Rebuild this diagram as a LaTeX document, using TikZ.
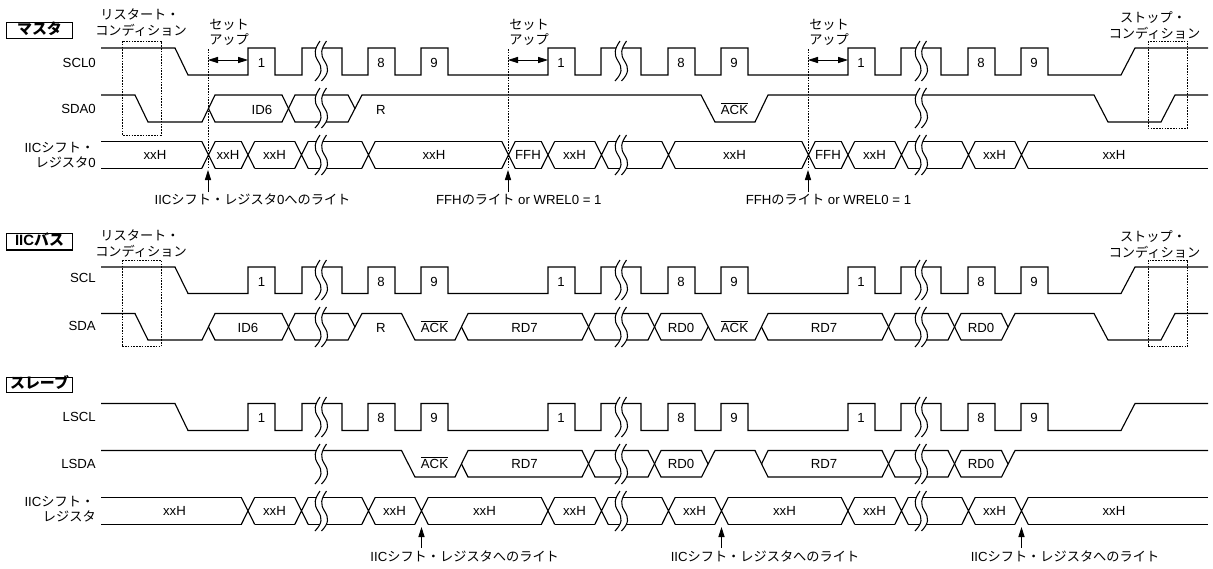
\documentclass[tikz,border=0pt]{standalone}
\usepackage{fontspec}
\setmainfont{Liberation Sans}
\newfontfamily\jpf{Noto Sans CJK JP}
\usetikzlibrary{arrows.meta}
\newcommand{\J}[1]{{\jpf\fontsize{9.9pt}{11pt}\selectfont #1}}
\newcommand{\JB}[1]{{\jpf\bfseries\fontsize{11.2pt}{12pt}\selectfont #1}}
\newcommand{\Ol}[1]{$\overline{\mbox{#1}}$}
% two rails of a bus
\newcommand{\rails}[3]{\foreach \a/\b in {#3}{\draw[wave] (\a,#1) -- (\b,#1) (\a,#2) -- (\b,#2);}}
% crossings of a bus
\newcommand{\crosses}[3]{\foreach \c in {#3}{\draw[wave] ({\c-6.7},#1) -- ({\c+6.7},#2) ({\c-6.7},#2) -- ({\c+6.7},#1);}}
% break mark: centre x, top y
\newcommand{\brk}[2]{%
  \fill[white] ({#1-1.5},#2) .. controls ({#1-7},{#2+8}) and ({#1-8},{#2+13}) .. ({#1-3.5},{#2+20}) .. controls ({#1+1},{#2+27}) and ({#1+1},{#2+32}) .. ({#1-6.5},{#2+40})
    -- ({#1},{#2+40}) .. controls ({#1+7.5},{#2+32}) and ({#1+7.5},{#2+27}) .. ({#1+3},{#2+20}) .. controls ({#1-1.5},{#2+13}) and ({#1-0.5},{#2+8}) .. ({#1+5},#2) -- cycle;
  \draw[brkline] ({#1-1.5},#2) .. controls ({#1-7},{#2+8}) and ({#1-8},{#2+13}) .. ({#1-3.5},{#2+20}) .. controls ({#1+1},{#2+27}) and ({#1+1},{#2+32}) .. ({#1-6.5},{#2+40});
  \draw[brkline] ({#1+5},#2) .. controls ({#1-0.5},{#2+8}) and ({#1-1.5},{#2+13}) .. ({#1+3},{#2+20}) .. controls ({#1+7.5},{#2+27}) and ({#1+7.5},{#2+32}) .. ({#1},{#2+40});}
% clock waveform
\newcommand{\clk}[2]{\draw[wave] (101,#1) -- (175,#1) -- (188,#2) -- (248,#2) -- (248,#1) -- (275,#1) -- (275,#2) -- (302,#2) -- (302,#1) -- (342,#1) -- (342,#2) -- (368,#2) -- (368,#1) -- (395,#1) -- (395,#2) -- (421,#2) -- (421,#1) -- (448,#1) -- (448,#2)
  -- (548,#2) -- (548,#1) -- (575,#1) -- (575,#2) -- (601,#2) -- (601,#1) -- (641,#1) -- (641,#2) -- (668,#2) -- (668,#1) -- (695,#1) -- (695,#2) -- (721,#2) -- (721,#1) -- (748,#1) -- (748,#2)
  -- (848,#2) -- (848,#1) -- (875,#1) -- (875,#2) -- (901,#2) -- (901,#1) -- (941,#1) -- (941,#2) -- (968,#2) -- (968,#1) -- (995,#1) -- (995,#2) -- (1021,#2) -- (1021,#1) -- (1048,#1) -- (1048,#2) -- (1121,#2) -- (1135,#1) -- (1208,#1);
  \foreach \x/\t [count=\i] in {261.5/1,381/8,434/9,561/1,681/8,734/9,861/1,981/8,1034/9}{\node[lbl] (n#1-\i) at (\x,{#1+14.5}) {\t};}}
\tikzset{
  wave/.style={line width=0.85pt,black,line cap=butt,line join=miter},
  brkline/.style={line width=0.8pt,black},
  lbl/.style={anchor=base,inner sep=0pt,yshift=-3.5pt,font=\fontsize{9.9pt}{11pt}\selectfont},
  rlbl/.style={lbl,anchor=base east},
  llbl/.style={lbl,anchor=base west},
  title/.style={draw,line width=0.8pt,anchor=center,inner sep=0pt,minimum width=50pt,font=\bfseries\fontsize{11.2pt}{12pt}\selectfont},
  dbox/.style={draw,line width=0.7pt,dash pattern=on 1.2pt off 0.9pt},
  dvline/.style={line width=0.7pt,dash pattern=on 1.2pt off 0.9pt},
  uparr/.style={line width=0.65pt,-{Stealth[length=7.5pt,width=4.6pt,inset=0pt]}},
  setarr/.style={line width=0.65pt,{Stealth[length=7.5pt,width=4.6pt,inset=0pt]}-{Stealth[length=7.5pt,width=4.6pt,inset=0pt]}}
}
\begin{document}
\begin{tikzpicture}[x=0.75pt,y=-0.75pt]
\useasboundingbox (0,0) rectangle (1213,568);
%%%%% MASTER
\node[title,minimum height=11.7pt,text height=7pt,text depth=1.5pt] (tm) at (39.5,30.5) {\JB{マスタ}};
\node[lbl] (rs1a) at (140,15) {\J{リスタート・}};
\node[lbl] (rs1b) at (141,31) {\J{コンディション}};
\node[lbl] (sp1a) at (1153,18) {\J{ストップ・}};
\node[lbl] (sp1b) at (1154.5,34) {\J{コンディション}};
\node[rlbl] (l1) at (96,63) {SCL0};
\node[rlbl] (l2) at (96,109) {SDA0};
\node[rlbl] (l3) at (94.5,147.5) {IIC\J{シフト・}};
\node[rlbl] (l4) at (96,163) {\J{レジスタ}0};
\clk{48}{75}
% SDA0
\draw[wave] (101,95) -- (135,95) -- (148,122) -- (202,122) -- (215,95) -- (282,95) -- (295,122) -- (348,122) -- (362,95) -- (701,95) -- (715,122) -- (755,122) -- (768,95) -- (1094,95) -- (1108,122) -- (1161,122) -- (1175,95) -- (1208,95);
\draw[wave] (208.5,108.5) -- (215,122) -- (282,122) -- (295,95) -- (348,95) -- (355,108.5);
% shift register 0
\rails{141.4}{168.4}{101/202,215/241.5,254.5/295,308/362,375/502,515/541.5,554.5/595,608/662,675/802,815/841.5,854.5/895,908/962,975/1015,1028/1208}
\crosses{141.4}{168.4}{208.5,248,301.5,368.5,508.5,548,601.5,668.5,808.5,848,901.5,968.5,1021.5}
\foreach \x/\t [count=\i] in {262/ID6,381/R,734.5/\Ol{ACK}}{\node[lbl] (d1\i) at (\x,109.5) {\t};}
\foreach \x/\t [count=\i] in {155/xxH,228/xxH,274.5/xxH,434/xxH,528/FFH,574.5/xxH,734.5/xxH,828/FFH,874.5/xxH,994.5/xxH,1114/xxH}{\node[lbl] (s1\i) at (\x,155) {\t};}
\brk{321.5}{41}\brk{321.5}{88}\brk{321.5}{135}
\brk{621.5}{41}\brk{621.5}{135}
\brk{921.5}{41}\brk{921.5}{88}\brk{921.5}{135}
\draw[dbox] (122,41) rectangle (161,135);
\draw[dbox] (1148,41) rectangle (1187.5,128);
% setup marks
\foreach \x [count=\i] in {208,508,808}{
  \draw[dvline] (\x,49) -- (\x,169);
  \coordinate (ua\i) at (\x,170);
  \coordinate (ub\i) at (\x,192);
  \draw[uparr] (ub\i) -- (ua\i);
  \coordinate (sa\i) at (\x,60);
  \coordinate (sb\i) at ({\x+40},60);
  \draw[setarr] (sa\i) -- (sb\i);
  \node[llbl] (su\i) at ({\x+1},24.5) {\J{セット}};
  \node[llbl] (sv\i) at ({\x+1},40) {\J{アップ}};
}
\node[lbl] (b1) at (252.5,200) {IIC\J{シフト・レジスタ}0\J{へのライト}};
\node[lbl] (b2) at (518.8,200) {FFH\J{のライト} or WREL0 = 1};
\node[lbl] (b3) at (828.5,200) {FFH\J{のライト} or WREL0 = 1};
%%%%% BUS
\node[title,minimum height=12.7pt,text height=7pt,text depth=1.5pt] (tb) at (39.5,241.5) {IIC\JB{バス}};
\node[lbl] (rs2a) at (140,236) {\J{リスタート・}};
\node[lbl] (rs2b) at (141,252) {\J{コンディション}};
\node[lbl] (sp2a) at (1153,237) {\J{ストップ・}};
\node[lbl] (sp2b) at (1154.5,252.5) {\J{コンディション}};
\node[rlbl] (l5) at (96,278) {SCL};
\node[rlbl] (l6) at (96,326) {SDA};
\clk{267}{293.5}
\draw[wave] (101,313.5) -- (135,313.5) -- (148,340) -- (202,340) -- (215,313.5) -- (282,313.5) -- (295,340) -- (348,340) -- (362,313.5) -- (401.5,313.5) -- (415,340) -- (455,340) -- (468,313.5) -- (582,313.5) -- (595,340) -- (648,340) -- (661,313.5) -- (701.5,313.5) -- (715,340) -- (755,340) -- (768,313.5) -- (882,313.5) -- (895,340) -- (948,340) -- (961,313.5) -- (1001.5,313.5) -- (1008,327);
\draw[wave] (208.5,327) -- (215,340) -- (282,340) -- (295,313.5) -- (348,313.5) -- (355,327);
\draw[wave] (461.5,327) -- (468,340) -- (582,340) -- (595,313.5) -- (648,313.5) -- (661,340) -- (701.5,340) -- (708,327);
\draw[wave] (761.5,327) -- (768,340) -- (882,340) -- (895,313.5) -- (948,313.5) -- (961,340) -- (1001.5,340) -- (1015,313.5) -- (1094,313.5) -- (1108,340) -- (1161,340) -- (1175,313.5) -- (1208,313.5);
\foreach \x/\t [count=\i] in {248/ID6,381/R,434.5/\Ol{ACK},524.5/RD7,681/RD0,734.5/\Ol{ACK},824/RD7,981/RD0}{\node[lbl] (d2\i) at (\x,327.5) {\t};}
\foreach \x in {321.5,621.5,921.5}{\brk{\x}{260}\brk{\x}{307}}
\draw[dbox] (122,260) rectangle (161,346.7);
\draw[dbox] (1148,260) rectangle (1187.5,346.7);
%%%%% SLAVE
\node[title,minimum height=11.5pt,text height=7pt,text depth=1.5pt] (ts) at (39.5,385) {\JB{スレーブ}};
\node[rlbl] (l7) at (96,417) {LSCL};
\node[rlbl] (l8) at (96,463.5) {LSDA};
\node[rlbl] (l9) at (94.5,502) {IIC\J{シフト・}};
\node[rlbl] (l10) at (96,517) {\J{レジスタ}};
\clk{403.5}{430.5}
\draw[wave] (101,450.5) -- (401.5,450.5) -- (415,477) -- (455,477) -- (468,450.5) -- (582,450.5) -- (595,477) -- (648,477) -- (661,450.5) -- (701.5,450.5) -- (708,464);
\draw[wave] (461.5,464) -- (468,477) -- (582,477) -- (595,450.5) -- (648,450.5) -- (661,477) -- (701.5,477) -- (715,450.5) -- (755,450.5) -- (768,477) -- (882,477) -- (895,450.5) -- (948,450.5) -- (961,477) -- (1001.5,477) -- (1015,450.5) -- (1208,450.5);
\draw[wave] (761.5,464) -- (768,450.5) -- (882,450.5) -- (895,477) -- (948,477) -- (961,450.5) -- (1001.5,450.5) -- (1008,464);
\rails{497.4}{524.4}{101/241.5,254.5/295,308/362,375/415,428/541.5,554.5/595,608/662,675/715,728/841.5,854.5/895,908/962,975/1015,1028/1208}
\crosses{497.4}{524.4}{248,301.5,368.5,421.5,548,601.5,668.5,721.5,848,901.5,968.5,1021.5}
\foreach \x/\t [count=\i] in {434.5/\Ol{ACK},524.5/RD7,681/RD0,824/RD7,981/RD0}{\node[lbl] (d3\i) at (\x,463.5) {\t};}
\foreach \x [count=\i] in {174.5,274.5,394.5,484.5,574.5,694.5,784.5,874.5,994.5,1114}{\node[lbl] (s3\i) at (\x,510.5) {xxH};}
\foreach \x in {321.5,621.5,921.5}{\brk{\x}{397}\brk{\x}{444}\brk{\x}{491}}
\foreach \x/\c [count=\i] in {421.5/464.7,721.5/765,1021.5/1065}{
  \coordinate (va\i) at (\x,527);
  \coordinate (vb\i) at (\x,548);
  \draw[uparr] (vb\i) -- (va\i);
  \node[lbl] (w\i) at (\c,556.5) {IIC\J{シフト・レジスタへのライト}};
}
\end{tikzpicture}
\end{document}
